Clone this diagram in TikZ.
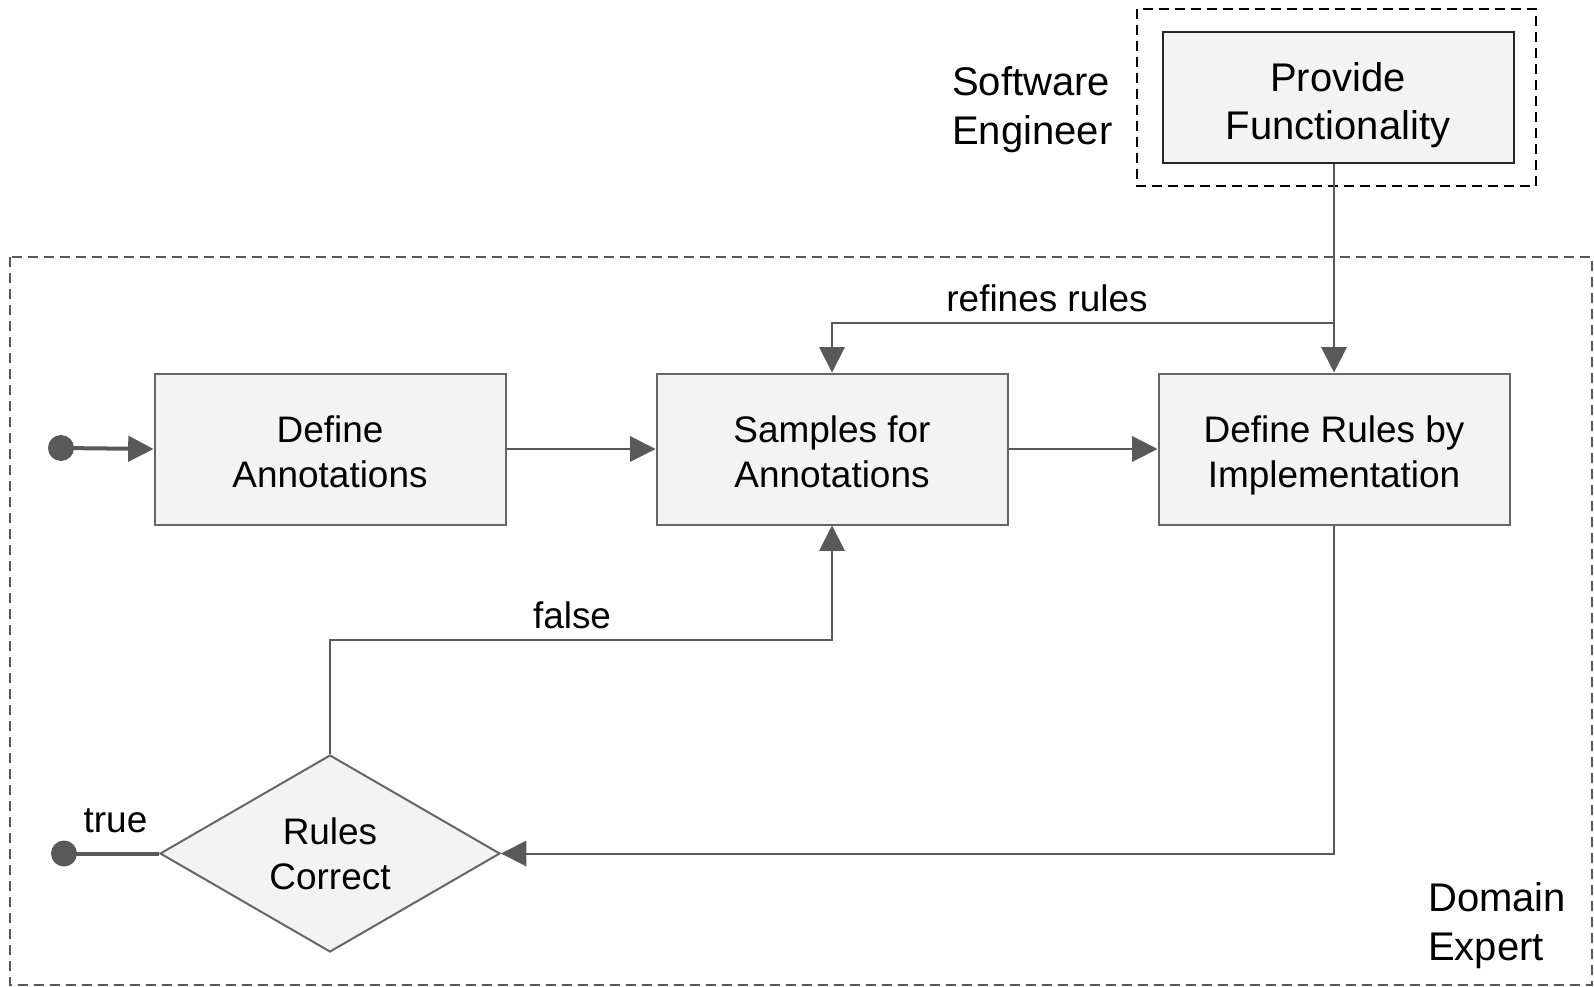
\documentclass[tikz,border=0pt]{standalone}
\usepackage{fontspec}
\setmainfont{Liberation Sans}
\usetikzlibrary{arrows.meta,shapes.geometric}
\definecolor{linec}{HTML}{595959}
\definecolor{boxfill}{HTML}{F3F3F3}
\definecolor{boxline}{HTML}{666666}
\newcommand{\topst}{\rule{0pt}{29.8pt}}
\newcommand{\botst}{\rule[-5.8pt]{0pt}{5.8pt}}
\tikzset{
  txt/.style={font=\fontsize{27.7}{33.75}\selectfont, text=black},
  bigtxt/.style={font=\fontsize{30}{36.6}\selectfont, text=black},
  procbox/.style={txt, draw=boxline, fill=boxfill, line width=1.5pt, align=center,
    minimum width=351*0.75pt, minimum height=151*0.75pt, inner sep=0pt},
  conn/.style={draw=linec, line width=1.5pt},
  tip/.style={-{Triangle[length=19pt,width=19pt]}},
  dot/.style={circle, fill=linec, minimum size=26*0.75pt, inner sep=0pt},
  lbl/.style={txt, inner sep=0pt},
}
\begin{document}
\begin{tikzpicture}[x=0.75pt,y=-0.75pt]
\useasboundingbox (0,0) rectangle (1594,987);
% lanes
\draw[linec, line width=1.2pt, dash pattern=on 7.5pt off 4.5pt] (10,257) rectangle (1592,985);
\draw[black, line width=1.5pt, dash pattern=on 7.5pt off 4.5pt] (1137,9) rectangle (1536,186);
\node[bigtxt, inner sep=0pt, anchor=west, align=left] (se) at (952,109.5) {Software\\Engineer};
\node[bigtxt, inner sep=0pt, anchor=west, align=left] (de) at (1428,926) {Domain\\Expert};
% nodes
\node[procbox, bigtxt, draw=black!85, minimum height=131*0.75pt] (pf) at (1338,98) {\rule{0pt}{32.5pt}Provide\\Functionality};
\node[procbox] (da) at (330,449) {\topst Define\\Annotations\botst};
\node[procbox] (sa) at (832,449) {\topst Samples for\\Annotations\botst};
\node[procbox] (dr) at (1334,449) {\topst Define Rules by\\Implementation\botst};
\node[txt, diamond, draw=boxline, fill=boxfill, line width=1.5pt, align=center,
  minimum width=340*0.75pt, minimum height=197*0.75pt, inner sep=0pt] (rc) at (330,853.5) {Rules\\Correct};
\node[dot] (start) at (61,448) {};
\node[dot] (end) at (64,853.5) {};
% connectors
\draw[conn, line width=3pt, tip] (start.center) -- (da.west);
\draw[conn, line width=3pt] (end.center) -- (rc.west);
\draw[conn, tip] (da.east) -- (sa.west);
\draw[conn, tip] (sa.east) -- (dr.west);
\draw[conn, tip] (pf.south -| dr.north) -- (dr.north);
\coordinate (rj) at (1334,323);
\draw[conn, tip] (rj) -| (sa.north);
\draw[conn, tip] (dr.south) |- (rc.east);
\coordinate (fj) at (330,639.5);
\draw[conn, tip] (rc.north) -- (fj) -| (sa.south);
% labels
\node[lbl] (lr) at (1047,298) {refines rules};
\node[lbl] (lf) at (572,615) {false};
\node[lbl] (lt) at (115.5,821) {true};
\end{tikzpicture}
\end{document}
